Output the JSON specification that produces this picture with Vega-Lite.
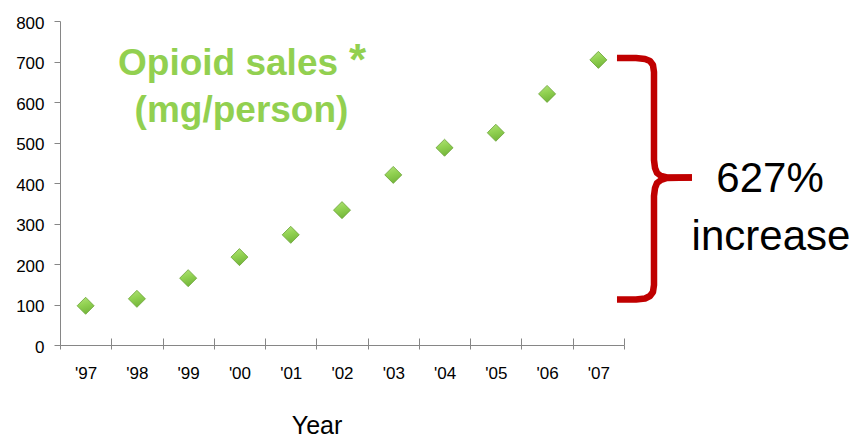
{
  "$schema": "https://vega.github.io/schema/vega-lite/v6.json",
  "width": 564,
  "height": 324,
  "autosize": {"type": "none"},
  "padding": {"left": 60, "top": 21, "right": 228, "bottom": 92},
  "background": "white",
  "config": {
    "view": {"stroke": null},
    "font": "Liberation Sans",
    "axis": {
      "grid": false,
      "domainColor": "#868686",
      "tickColor": "#868686",
      "labelColor": "#000000",
      "labelFont": "Liberation Sans",
      "titleFont": "Liberation Sans"
    }
  },
  "datasets": {
    "sales": [
      {"year": "'97", "mg": 96.8},
      {"year": "'98", "mg": 114},
      {"year": "'99", "mg": 165},
      {"year": "'00", "mg": 217},
      {"year": "'01", "mg": 272},
      {"year": "'02", "mg": 333},
      {"year": "'03", "mg": 420},
      {"year": "'04", "mg": 487},
      {"year": "'05", "mg": 524},
      {"year": "'06", "mg": 620},
      {"year": "'07", "mg": 704}
    ],
    "brace": [
      {"part": "upper", "seq": 1, "bx": 2007.363, "by": 708.6},
      {"part": "upper", "seq": 2, "bx": 2007.734, "by": 708.6},
      {"part": "upper", "seq": 3, "bx": 2007.910, "by": 706.2},
      {"part": "upper", "seq": 4, "bx": 2008.007, "by": 701.2},
      {"part": "upper", "seq": 5, "bx": 2008.065, "by": 691.4},
      {"part": "upper", "seq": 6, "bx": 2008.085, "by": 674.1},
      {"part": "upper", "seq": 7, "bx": 2008.085, "by": 456.8},
      {"part": "upper", "seq": 8, "bx": 2008.105, "by": 437.0},
      {"part": "upper", "seq": 9, "bx": 2008.144, "by": 424.7},
      {"part": "upper", "seq": 10, "bx": 2008.222, "by": 417.3},
      {"part": "upper", "seq": 11, "bx": 2008.339, "by": 413.6},
      {"part": "upper", "seq": 12, "bx": 2008.826, "by": 413.6},
      {"part": "lower", "seq": 1, "bx": 2008.826, "by": 413.6},
      {"part": "lower", "seq": 2, "bx": 2008.339, "by": 412.3},
      {"part": "lower", "seq": 3, "bx": 2008.222, "by": 407.4},
      {"part": "lower", "seq": 4, "bx": 2008.144, "by": 400.0},
      {"part": "lower", "seq": 5, "bx": 2008.105, "by": 387.7},
      {"part": "lower", "seq": 6, "bx": 2008.085, "by": 367.9},
      {"part": "lower", "seq": 7, "bx": 2008.085, "by": 148.1},
      {"part": "lower", "seq": 8, "bx": 2008.065, "by": 130.9},
      {"part": "lower", "seq": 9, "bx": 2008.007, "by": 121.0},
      {"part": "lower", "seq": 10, "bx": 2007.910, "by": 114.8},
      {"part": "lower", "seq": 11, "bx": 2007.734, "by": 112.3},
      {"part": "lower", "seq": 12, "bx": 2007.363, "by": 112.3}
    ]
  },
  "resolve": {"scale": {"x": "independent"}, "axis": {"y": "independent"}},
  "layer": [
    {
      "data": {"name": "sales"},
      "mark": {
        "type": "point", "shape": "diamond", "filled": true, "size": 290,
        "fill": {
          "gradient": "linear", "x1": 0, "y1": 0, "x2": 0.3, "y2": 1,
          "stops": [
            {"offset": 0, "color": "#b4e37c"},
            {"offset": 0.5, "color": "#92d252"},
            {"offset": 1, "color": "#76b83c"}
          ]
        },
        "stroke": "#6aa236", "strokeWidth": 0.8, "opacity": 1
      },
      "encoding": {
        "x": {
          "field": "year", "type": "nominal", "sort": null,
          "scale": {"type": "band", "paddingInner": 0, "paddingOuter": 0},
          "axis": {
            "orient": "bottom", "domain": true, "ticks": true, "tickSize": 4, "tickBand": "extent",
            "labelAngle": 0, "labelFontSize": 17, "labelBaseline": "alphabetic", "labelPadding": 29,
            "title": "Year", "titleFontSize": 25, "titleFontWeight": "normal", "titleColor": "#000000",
            "titleX": 256.5, "titleY": 88, "titleBaseline": "alphabetic", "titleAlign": "center"
          }
        },
        "y": {
          "field": "mg", "type": "quantitative",
          "scale": {"domain": [0, 800], "nice": false},
          "axis": {
            "orient": "left",
            "values": [0, 100, 200, 300, 400, 500, 600, 700, 800],
            "title": null, "tickSize": 6, "labelFontSize": 17, "labelPadding": 10,
            "labelOffset": 2
          }
        }
      }
    },
    {
      "description": "Upward half of the crossing x ticks",
      "data": {"name": "sales"},
      "mark": {"type": "point", "opacity": 0},
      "encoding": {
        "x": {
          "field": "year", "type": "nominal", "sort": null,
          "scale": {"type": "band", "paddingInner": 0, "paddingOuter": 0},
          "axis": {
            "orient": "bottom", "domain": false, "labels": false, "title": null,
            "ticks": true, "tickSize": -7, "tickBand": "extent"
          }
        },
        "y": {"field": "mg", "type": "quantitative", "scale": {"domain": [0, 800], "nice": false}, "axis": null}
      }
    },
    {
      "data": {"name": "brace"},
      "mark": {"type": "line", "color": "#c00000", "strokeWidth": 6.5, "strokeCap": "butt", "strokeJoin": "round"},
      "encoding": {
        "x": {"field": "bx", "type": "quantitative", "scale": {"domain": [1996.5, 2007.5], "nice": false, "zero": false}, "axis": null},
        "y": {"field": "by", "type": "quantitative", "scale": {"domain": [0, 800], "nice": false}, "axis": null},
        "detail": {"field": "part"},
        "order": {"field": "seq"}
      }
    },
    {
      "data": {"values": [{}]},
      "mark": {"type": "text", "text": "Opioid sales", "font": "Liberation Sans", "fontSize": 37, "fontWeight": "bold", "color": "#92d050", "align": "center", "baseline": "alphabetic"},
      "encoding": {
        "x": {"datum": 1999.777, "type": "quantitative", "scale": {"domain": [1996.5, 2007.5], "nice": false, "zero": false}, "axis": null},
        "y": {"datum": 666.7, "type": "quantitative", "scale": {"domain": [0, 800], "nice": false}, "axis": null}
      }
    },
    {
      "data": {"values": [{}]},
      "mark": {"type": "text", "text": "*", "font": "Liberation Sans", "fontSize": 44, "fontWeight": "bold", "color": "#92d050", "align": "center", "baseline": "alphabetic"},
      "encoding": {
        "x": {"datum": 2002.302, "type": "quantitative", "scale": {"domain": [1996.5, 2007.5], "nice": false, "zero": false}, "axis": null},
        "y": {"datum": 666.7, "type": "quantitative", "scale": {"domain": [0, 800], "nice": false}, "axis": null}
      }
    },
    {
      "data": {"values": [{}]},
      "mark": {"type": "text", "text": "(mg/person)", "font": "Liberation Sans", "fontSize": 37, "fontWeight": "bold", "color": "#92d050", "align": "center", "baseline": "alphabetic"},
      "encoding": {
        "x": {"datum": 2000.04, "type": "quantitative", "scale": {"domain": [1996.5, 2007.5], "nice": false, "zero": false}, "axis": null},
        "y": {"datum": 551.4, "type": "quantitative", "scale": {"domain": [0, 800], "nice": false}, "axis": null}
      }
    },
    {
      "data": {"values": [{}]},
      "mark": {"type": "text", "text": "627%", "font": "Liberation Sans", "fontSize": 42, "color": "#000000", "align": "center", "baseline": "alphabetic"},
      "encoding": {
        "x": {"datum": 2010.348, "type": "quantitative", "scale": {"domain": [1996.5, 2007.5], "nice": false, "zero": false}, "axis": null},
        "y": {"datum": 377.8, "type": "quantitative", "scale": {"domain": [0, 800], "nice": false}, "axis": null}
      }
    },
    {
      "data": {"values": [{}]},
      "mark": {"type": "text", "text": "increase", "font": "Liberation Sans", "fontSize": 42, "color": "#000000", "align": "center", "baseline": "alphabetic"},
      "encoding": {
        "x": {"datum": 2010.367, "type": "quantitative", "scale": {"domain": [1996.5, 2007.5], "nice": false, "zero": false}, "axis": null},
        "y": {"datum": 234.6, "type": "quantitative", "scale": {"domain": [0, 800], "nice": false}, "axis": null}
      }
    }
  ]
}
